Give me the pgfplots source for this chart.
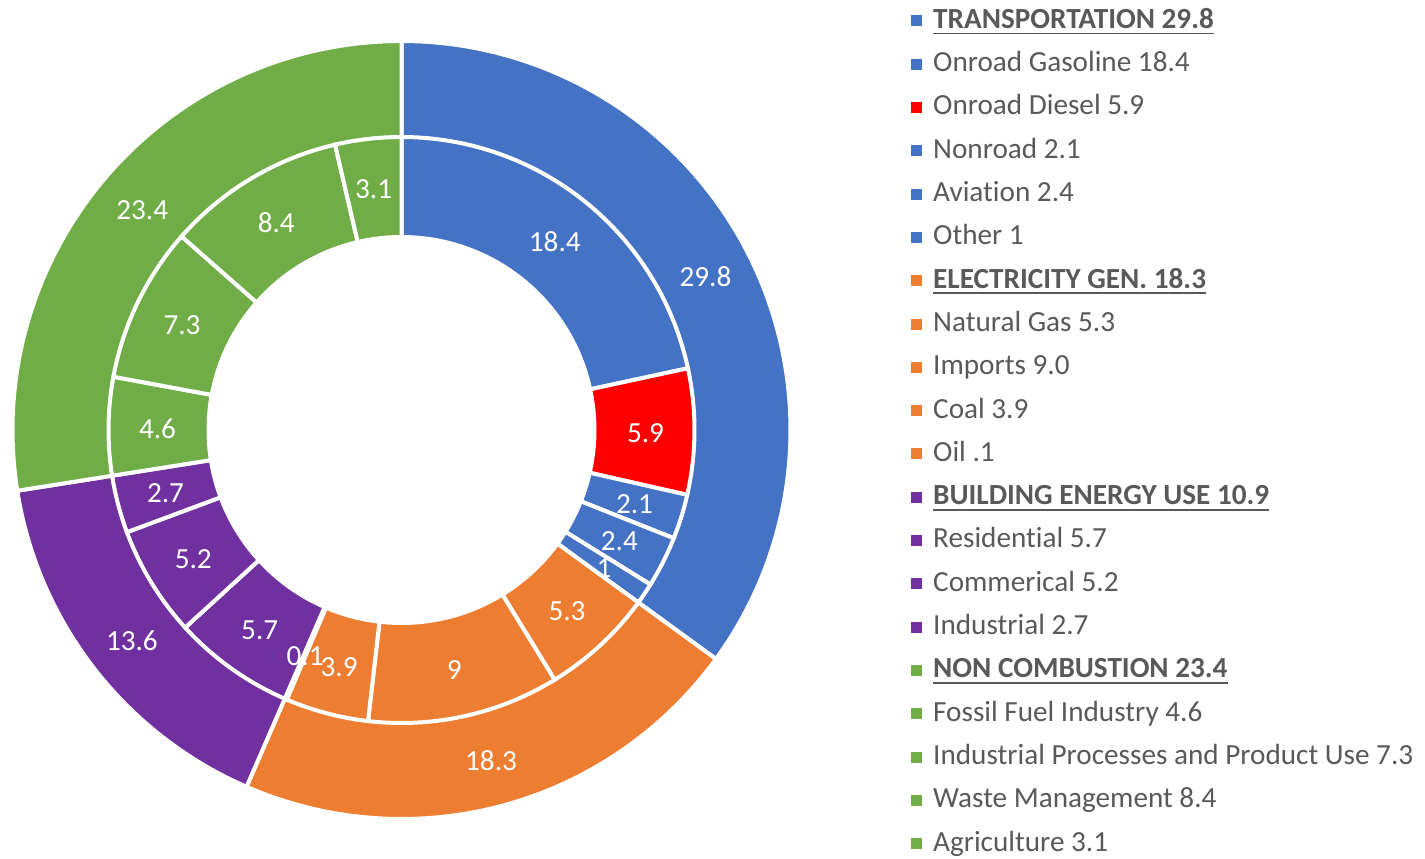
\documentclass[border=0pt]{standalone}
\usepackage{pgfplots}
\pgfplotsset{compat=1.18}
\usepackage{fontspec}
\setmainfont{Carlito}[Ligatures={NoCommon}]
\definecolor{cBlue}{HTML}{4472C4}
\definecolor{cOrange}{HTML}{ED7D31}
\definecolor{cPurple}{HTML}{7030A0}
\definecolor{cGreen}{HTML}{70AD47}
\definecolor{cRed}{HTML}{FF0000}
\definecolor{txt}{HTML}{595959}

\def\total{85.1}
\def\cx{401.5}
\def\cy{424}
\def\Rout{389}
\def\Rmid{293}
\def\Rin{195}
\def\LRout{341}
\def\LRin{244}

\newcommand\legfont{\fontsize{14.6}{17}\selectfont}
\newcommand\hdr[1]{\setbox0\hbox{\textbf{#1}}\rlap{\rule[-3pt]{\wd0}{0.9pt}}\box0}

\pgfplotsset{
  lsq/.style={legend image code/.code={\fill[#1] (0pt,-2.5pt) rectangle (5pt,2.5pt);}},
}
\tikzset{lblstyle/.style={text=white, font=\legfont, inner sep=0pt, yshift=-0.8pt}}

\gdef\cum{0}
\gdef\labs{}
% #1 radius, #2 label radius, #3 value, #4 colour, #5 label
\newcommand{\slice}[5]{%
  \pgfmathsetmacro\aS{90-\cum/\total*360}%
  \pgfmathsetmacro\aE{90-(\cum+#3)/\total*360}%
  \pgfmathsetmacro\aM{(\aS+\aE)/2}%
  \pgfmathsetmacro\lx{\cx+#2*cos(\aM)}%
  \pgfmathsetmacro\ly{\cy+#2*sin(\aM)}%
  \pgfmathsetmacro\nc{\cum+#3}%
  \xdef\cum{\nc}%
  \xdef\labs{\labs (\lx,\ly) [#5]}%
  \edef\doit{\noexpand\addplot[fill=#4, draw=white, line width=2pt, domain=\aE:\aS, samples=90, forget plot] ({\cx+#1*cos(x)},{\cy+#1*sin(x)}) -- (axis cs:\cx,\cy) -- cycle;}%
  \doit
}

\begin{document}
\begin{tikzpicture}
\begin{axis}[
  x=0.5pt, y=0.5pt,
  xmin=0, xmax=1425, ymin=0, ymax=854,
  hide axis, clip=false,
  legend style={at={(0.6393,0.993)}, anchor=north west, draw=none, fill=none,
    inner sep=0pt, font=\legfont, text=txt, row sep=7.15pt,
    nodes={inner sep=0pt, text height=11pt, text depth=3.5pt},
    /tikz/every odd column/.append style={column sep=5.5pt}},
  legend cell align=left,
]
\path (axis cs:0,0) rectangle (axis cs:1425,854);
% outer ring
\gdef\cum{0}
\slice{\Rout}{\LRout}{29.8}{cBlue}{29.8}
\slice{\Rout}{\LRout}{18.3}{cOrange}{18.3}
\slice{\Rout}{\LRout}{13.6}{cPurple}{13.6}
\slice{\Rout}{\LRout}{23.4}{cGreen}{23.4}
% inner ring
\gdef\cum{0}
\slice{\Rmid}{\LRin}{18.4}{cBlue}{18.4}
\slice{\Rmid}{\LRin}{5.9}{cRed}{5.9}
\slice{\Rmid}{\LRin}{2.1}{cBlue}{2.1}
\slice{\Rmid}{\LRin}{2.4}{cBlue}{2.4}
\slice{\Rmid}{\LRin}{1}{cBlue}{1}
\slice{\Rmid}{\LRin}{5.3}{cOrange}{5.3}
\slice{\Rmid}{\LRin}{9.0}{cOrange}{9}
\slice{\Rmid}{\LRin}{3.9}{cOrange}{3.9}
\slice{\Rmid}{\LRin}{0.1}{cOrange}{0.1}
\slice{\Rmid}{\LRin}{5.7}{cPurple}{5.7}
\slice{\Rmid}{\LRin}{5.2}{cPurple}{5.2}
\slice{\Rmid}{\LRin}{2.7}{cPurple}{2.7}
\slice{\Rmid}{\LRin}{4.6}{cGreen}{4.6}
\slice{\Rmid}{\LRin}{7.3}{cGreen}{7.3}
\slice{\Rmid}{\LRin}{8.4}{cGreen}{8.4}
\slice{\Rmid}{\LRin}{3.1}{cGreen}{3.1}
% hole
\addplot[fill=white, draw=none, domain=0:360, samples=181, forget plot]
  ({\cx+\Rin*cos(x)},{\cy+\Rin*sin(x)}) -- cycle;
% labels
\edef\dolab{\noexpand\addplot[only marks, mark=*, mark size=0pt, scatter/use mapped color={draw=none, fill=none}, forget plot, nodes near coords, point meta=explicit symbolic, nodes near coords align=center, nodes near coords style={lblstyle}] coordinates {\labs};}
\dolab
% legend
\addlegendimage{lsq=cBlue}\addlegendentry{\hdr{TRANSPORTATION 29.8}}
\addlegendimage{lsq=cBlue}\addlegendentry{Onroad Gasoline 18.4}
\addlegendimage{lsq=cRed}\addlegendentry{Onroad Diesel 5.9}
\addlegendimage{lsq=cBlue}\addlegendentry{Nonroad 2.1}
\addlegendimage{lsq=cBlue}\addlegendentry{Aviation 2.4}
\addlegendimage{lsq=cBlue}\addlegendentry{Other 1}
\addlegendimage{lsq=cOrange}\addlegendentry{\hdr{ELECTRICITY GEN. 18.3}}
\addlegendimage{lsq=cOrange}\addlegendentry{Natural Gas 5.3}
\addlegendimage{lsq=cOrange}\addlegendentry{Imports 9.0}
\addlegendimage{lsq=cOrange}\addlegendentry{Coal 3.9}
\addlegendimage{lsq=cOrange}\addlegendentry{Oil .1}
\addlegendimage{lsq=cPurple}\addlegendentry{\hdr{BUILDING ENERGY USE 10.9}}
\addlegendimage{lsq=cPurple}\addlegendentry{Residential 5.7}
\addlegendimage{lsq=cPurple}\addlegendentry{Commerical 5.2}
\addlegendimage{lsq=cPurple}\addlegendentry{Industrial 2.7}
\addlegendimage{lsq=cGreen}\addlegendentry{\hdr{NON COMBUSTION 23.4}}
\addlegendimage{lsq=cGreen}\addlegendentry{Fossil Fuel Industry 4.6}
\addlegendimage{lsq=cGreen}\addlegendentry{Industrial Processes and Product Use 7.3}
\addlegendimage{lsq=cGreen}\addlegendentry{Waste Management 8.4}
\addlegendimage{lsq=cGreen}\addlegendentry{Agriculture 3.1}
\end{axis}
\end{tikzpicture}
\end{document}
